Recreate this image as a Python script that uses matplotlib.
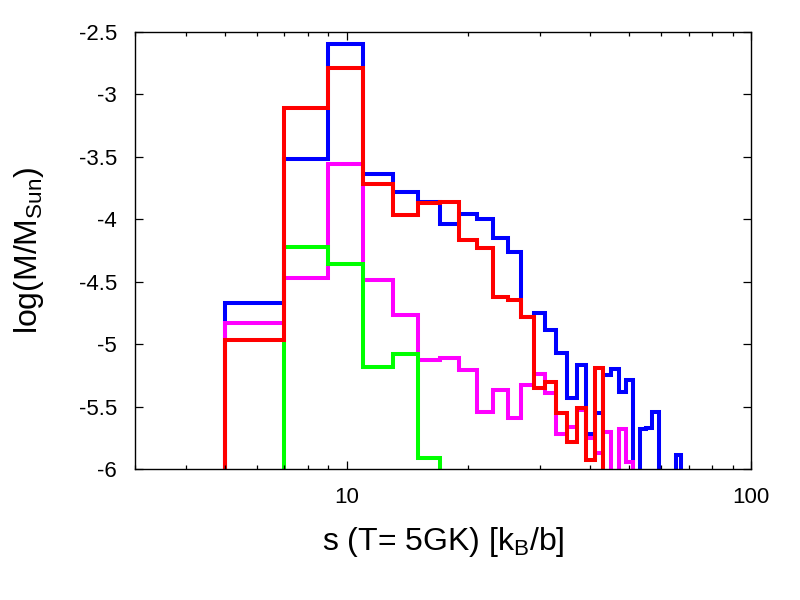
import matplotlib
matplotlib.use('Agg')
import matplotlib.pyplot as plt
import matplotlib.ticker as mticker
import numpy as np

plt.rcParams['font.family'] = ['Liberation Sans', 'DejaVu Sans']

# bin edges in s (width 2 k_B/b), values are log(M/M_sun) per bin, nan = below the plot range
edges = np.arange(5, 69, 2)

blue = [-4.67, -3.52, -2.60, -3.64, -3.78, -3.86, -4.04, -3.96, -4.00, -4.15,
        -4.26, -4.78, -4.75, -4.89, -5.07, -5.43, -5.17, -5.72, -5.55, -5.25,
        -5.20, -5.38, -5.29, np.nan, -5.68, -5.67, -5.54, np.nan, np.nan, np.nan,
        -5.89]
red = [-4.97, -3.11, -2.79, -3.72, -3.97, -3.87, -3.86, -4.17, -4.23, -4.62,
       -4.65, -4.78, -5.35, -5.30, -5.55, -5.78, -5.51, -5.93, -5.19, np.nan,
       np.nan, np.nan, np.nan, np.nan, np.nan, np.nan, np.nan, np.nan, np.nan, np.nan,
       np.nan]
magenta = [-4.83, -4.47, -3.56, -4.49, -4.77, -5.13, -5.11, -5.21, -5.54, -5.37,
           -5.59, -5.33, -5.24, -5.39, -5.72, -5.66, -5.53, -5.75, -5.87, -5.70,
           np.nan, -5.68, -5.94, np.nan, np.nan, np.nan, np.nan, np.nan, np.nan, np.nan,
           np.nan]
green = [np.nan, -4.22, -4.36, -5.18, -5.08, -5.91, np.nan, np.nan, np.nan, np.nan,
         np.nan, np.nan, np.nan, np.nan, np.nan, np.nan, np.nan, np.nan, np.nan, np.nan,
         np.nan, np.nan, np.nan, np.nan, np.nan, np.nan, np.nan, np.nan, np.nan, np.nan,
         np.nan]

floor = -7.0

fig = plt.figure(figsize=(8, 6), dpi=100)
ax = fig.add_axes([0.169, 0.2183, 0.77, 0.7289])

# drawing order: blue under, red on top
for vals, col in [(blue, '#0000ff'), (magenta, '#ff00ff'), (green, '#00ff00'), (red, '#ff0000')]:
    v = np.nan_to_num(np.array(vals, dtype=float), nan=floor)
    ax.stairs(v, edges, baseline=floor, fill=False, color=col, lw=2.9)

ax.set_xscale('log')
ax.set_xlim(3, 100)
ax.set_ylim(-6, -2.5)

ax.xaxis.set_major_locator(mticker.FixedLocator([10, 100]))
ax.xaxis.set_major_formatter(mticker.FixedFormatter(['10', '100']))
ax.xaxis.set_minor_locator(mticker.LogLocator(base=10, subs=np.arange(2, 10)))
ax.xaxis.set_minor_formatter(mticker.NullFormatter())
ax.set_yticks(np.arange(-6, -2.49, 0.5))
ax.set_yticklabels(['-6', '-5.5', '-5', '-4.5', '-4', '-3.5', '-3', '-2.5'])

ax.tick_params(which='both', direction='in', top=True, right=True, labelsize=16, width=0.9)
ax.tick_params(which='major', length=6)
ax.tick_params(which='minor', length=3)
ax.tick_params(axis='x', pad=13)
ax.tick_params(axis='y', pad=13)
for sp in ax.spines.values():
    sp.set_linewidth(1.0)

ax.set_xlabel(r's (T= 5GK) [k$_\mathregular{B}$/b]', fontsize=23, labelpad=12)
ax.set_ylabel(r'log(M/M$_\mathregular{Sun}$)', fontsize=23, labelpad=24)

fig.savefig('out.png', dpi=100)
